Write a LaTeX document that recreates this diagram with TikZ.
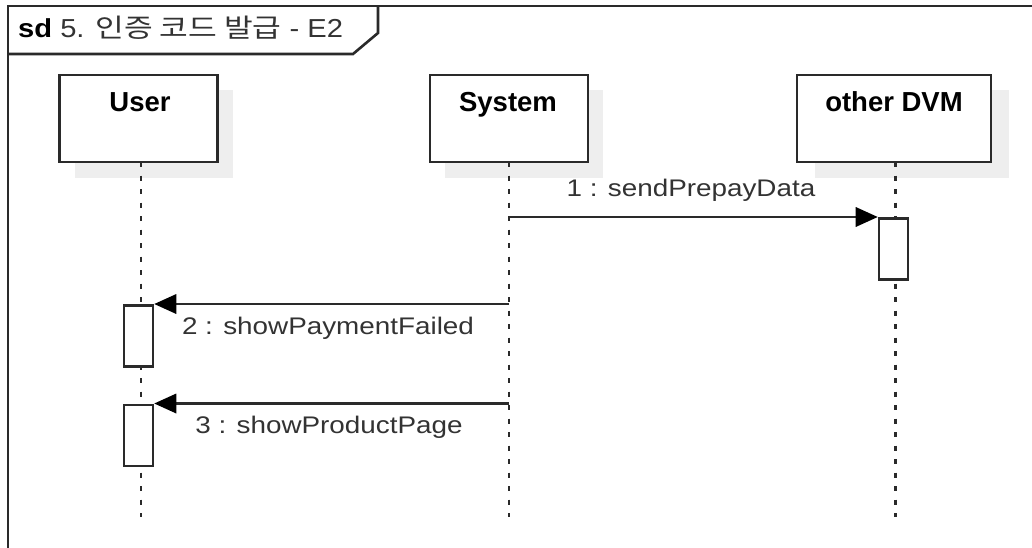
\documentclass[tikz,border=0pt]{standalone}
\usepackage{fontspec}
\setmainfont{Liberation Sans}
\newfontfamily\msgfont[FakeStretch=1.16]{Liberation Sans}
\newfontfamily\ttlfont[FakeStretch=1.12]{Liberation Sans}
\newfontfamily\krfont[FakeStretch=1.2]{Noto Sans CJK KR}
\usetikzlibrary{arrows.meta}
\definecolor{edge}{HTML}{2A2A2A}
\definecolor{shadowc}{HTML}{EEEEEE}
\definecolor{txt}{HTML}{333333}
\tikzset{
  lifebox/.style={draw=edge, line width=2.6pt, fill=white, minimum width=158pt, minimum height=87pt, inner sep=0pt},
  shadowbox/.style={fill=shadowc, minimum width=158pt, minimum height=87pt, inner sep=0pt, draw=none},
  boxlabel/.style={font=\fontsize{27.5}{30}\selectfont\bfseries, text=black, inner sep=0pt, anchor=base},
  lifeline/.style={draw=edge, line width=2.6pt, dash pattern=on 5pt off 8.5pt},
  actbox/.style={draw=edge, line width=2.6pt, fill=white, minimum width=29pt, minimum height=61pt, inner sep=0pt},
  msg/.style={draw=edge, line width=2.6pt, -{Triangle[length=22pt,width=20pt,fill=black,line width=0pt]}},
  msglabel/.style={font=\msgfont\fontsize{24}{28}\selectfont, text=txt, inner sep=0pt, anchor=base},
  frameline/.style={draw=edge, line width=2.6pt}
}
\begin{document}
\begin{tikzpicture}[x=1pt,y=-1pt]
\useasboundingbox (0,0) rectangle (1032,548);
\clip (0,0) rectangle (1032,548);
\fill[white] (0,0) rectangle (1032,548);
% frame
\draw[frameline] (8,560) -- (8,6) -- (1045,6);
\draw[frameline] (8,54) -- (353,54) -- (378,33) -- (378,6);
\node[inner sep=0pt, anchor=base west, font=\ttlfont\fontsize{26}{28}\selectfont, text=black] (title) at (18,37.3)
  {\textbf{sd} \textcolor{txt}{5. {\krfont 인증 코드 발급} - E2}};
% shadows
\node[shadowbox] (ushadow) at (154,134) {};
\node[shadowbox, minimum width=194pt] (dshadow) at (912,134) {};
\node[shadowbox] (sshadow) at (524,134) {};
% lifelines
\coordinate (uend) at (141,517);
\coordinate (send) at (509,517);
\coordinate (dend) at (895.7,517);
\draw[lifeline] (141,162) -- (uend);
\draw[lifeline] (509,162) -- (send);
\draw[lifeline] (895.7,162) -- (dend);
% boxes
\node[lifebox] (user) at (138.7,118.5) {};
\node[lifebox] (system) at (509,118.5) {};
\node[lifebox, minimum width=194pt] (dvm) at (894,118.5) {};
\node[boxlabel] (userlbl) at (140,112) {User};
\node[boxlabel] (syslbl) at (508,112) {System};
\node[boxlabel] (dvmlbl) at (894,112) {other DVM};
% activations
\node[actbox, anchor=north] (act1) at (893.5,217) {};
\node[actbox, anchor=north] (act2) at (138.5,304) {};
\node[actbox, anchor=north] (act3) at (138.5,403.5) {};
% messages
\coordinate (s1) at (509,217);
\coordinate (s2) at (509,304);
\coordinate (s3) at (509,403.5);
\draw[msg] (s1) -- (act1.north west);
\draw[msg] (s2) -- (act2.north east);
\draw[msg] (s3) -- (act3.north east);
\node[msglabel] (l1) at (691,196.7) {1 : sendPrepayData};
\node[msglabel] (l2) at (328,334.5) {2 : showPaymentFailed};
\node[msglabel] (l3) at (329,433) {3 : showProductPage};
\end{tikzpicture}
\end{document}
